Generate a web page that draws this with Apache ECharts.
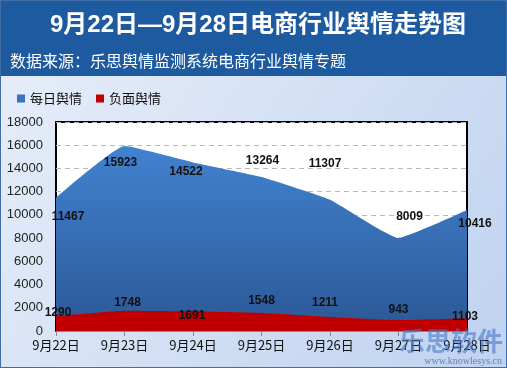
<!DOCTYPE html>
<html><head><meta charset="utf-8">
<script src="https://cdn.jsdelivr.net/npm/echarts@6/dist/echarts.min.js"></script>
<style>html,body{margin:0;padding:0;}#c{width:507px;height:368px;}</style>
</head><body><div id="c"></div>
<script>
const categories = ['9月22日','9月23日','9月24日','9月25日','9月26日','9月27日','9月28日'];
const dailyValues = [11467, 15923, 14522, 13264, 11307, 8009, 10416];
const negativeValues = [1290, 1748, 1691, 1548, 1211, 943, 1103];
const seriesNames = ['每日舆情', '负面舆情'];
const titleText = '9月22日—9月28日电商行业舆情走势图';
const subtitleText = '数据来源：乐思舆情监测系统电商行业舆情专题';

// label offsets (styling, reproducing the original label placement)
const dailyLabelOffsets = [[12,30],[-4,28],[-7,20],[1,-5],[-5,-25],[11,-10],[8,25]];
const negLabelOffsets = [[2,8],[3,3],[-1,15],[0,-1],[-5,-3],[0,1],[-2,9]];

const chart = echarts.init(document.getElementById('c'));
const labelFont = {fontFamily:'Liberation Sans, Arial', fontWeight:'bold', fontSize:12, color:'#111'};
chart.setOption({
  animation:false,
  textStyle:{fontFamily:'Liberation Sans, Arial, Noto Sans CJK SC'},
  graphic:[
    {type:'rect', z:-10, shape:{x:0,y:0,width:507,height:368},
     style:{fill:new echarts.graphic.LinearGradient(0,0,1,1,[{offset:0,color:'#e9effa'},{offset:1,color:'#bfd2ef'}]), stroke:'#3f6ea8', lineWidth:2}},
    {type:'rect', z:-9, shape:{x:1,y:1,width:505,height:75}, style:{fill:'#1d5a9f'}},
    {type:'text', z:10, style:{x:258, y:25, text:titleText, fill:'#fff', align:'center', verticalAlign:'middle', font:'bold 24px "Liberation Sans", "Noto Sans CJK SC", sans-serif'}},
    {type:'text', z:10, style:{x:10, y:61, text:subtitleText, fill:'#fff', align:'left', verticalAlign:'middle', font:'16px "Noto Sans CJK SC", sans-serif'}},
    {type:'text', z:100, right:4, top:328, style:{text:'乐思软件', fill:'rgba(70,120,200,0.6)', font:'bold 26px "Noto Sans CJK SC", sans-serif'}},
    {type:'text', z:100, right:5, top:356, style:{text:'www.knowlesys.cn', fill:'rgba(60,90,150,0.7)', font:'10px "Liberation Serif", serif'}}
  ],
  legend:{left:12, top:87, itemWidth:8, itemHeight:8, itemGap:14, icon:'rect',
    textStyle:{fontSize:13, color:'#111', fontFamily:'Noto Sans CJK SC'},
    data:[{name:seriesNames[0], itemStyle:{color:'#3b73bd', opacity:1}}, {name:seriesNames[1], itemStyle:{color:'#c00000', opacity:1}}]},
  grid:{left:56, top:122, right:40, bottom:37, show:true, backgroundColor:'#fff', borderColor:'#000', borderWidth:2},
  xAxis:{type:'category', boundaryGap:false, data:categories,
    axisLine:{lineStyle:{color:'#888', width:1}}, axisTick:{show:true, length:5, lineStyle:{color:'#888'}},
    axisLabel:{fontSize:13, color:'#111', margin:8, fontFamily:'Noto Sans CJK SC'}},
  yAxis:{type:'value', min:0, max:18000, interval:2000,
    axisLine:{show:false}, axisTick:{show:false},
    axisLabel:{fontSize:13, color:'#222', margin:13, fontFamily:'Liberation Sans, Arial', formatter:v=>String(v)},
    splitLine:{lineStyle:{type:[5,4], color:'#b8b8b8'}}},
  series:[
    {name:seriesNames[0], type:'line', smooth:0.12, symbol:'circle', symbolSize:0.01, showSymbol:true,
     itemStyle:{color:'#3b73bd'}, lineStyle:{width:0},
     areaStyle:{opacity:1, color:new echarts.graphic.LinearGradient(0,0,0,1,[{offset:0,color:'#4282d0'},{offset:1,color:'#2b5896'}])},
     label:{show:true, position:'top', ...labelFont},
     data:dailyValues.map((v,i)=>({value:v, label:{offset:dailyLabelOffsets[i]}}))},
    {name:seriesNames[1], type:'line', smooth:0.12, symbol:'circle', symbolSize:0.01, showSymbol:true,
     itemStyle:{color:'#c00000'}, lineStyle:{width:0},
     areaStyle:{opacity:1, color:'#c00000'},
     label:{show:true, position:'top', ...labelFont},
     data:negativeValues.map((v,i)=>({value:v, label:{offset:negLabelOffsets[i]}}))}
  ]
});
</script></body></html>
